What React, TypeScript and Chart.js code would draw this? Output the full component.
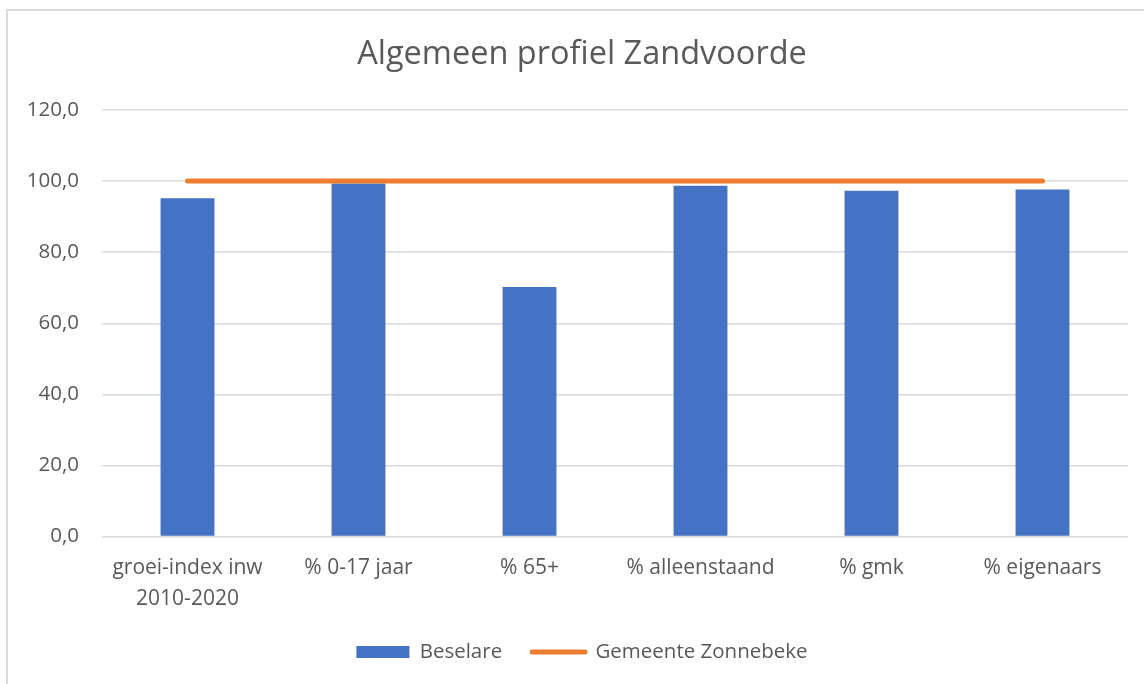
import React, { useEffect, useRef } from "react";
import { Chart, registerables } from "chart.js";

Chart.register(...registerables);

const categories: (string | string[])[] = [
  ["groei-index inw", "2010-2020"],
  "% 0-17 jaar",
  "% 65+",
  "% alleenstaand",
  "% gmk",
  "% eigenaars",
];
const beselare = [95.2, 99.3, 70.2, 98.7, 97.3, 97.6];
const gemeente = [100, 100, 100, 100, 100, 100];
const yTicks = [0, 20, 40, 60, 80, 100, 120];

const FONT = "'Open Sans', 'Noto Sans', sans-serif";
const TEXT = "#595959";

const borderPlugin = {
  id: "outerBorder",
  beforeDraw(chart: any) {
    const ctx = chart.ctx;
    ctx.save();
    ctx.fillStyle = "#ffffff";
    ctx.fillRect(0, 0, chart.width, chart.height);
    ctx.strokeStyle = "#d9d9d9";
    ctx.lineWidth = 2;
    ctx.strokeRect(7, 10, chart.width + 20, chart.height + 20);
    ctx.restore();
  },
};

export default function App() {
  const ref = useRef<HTMLCanvasElement>(null);
  useEffect(() => {
    if (!ref.current) return;
    const chart = new Chart(ref.current, {
      type: "bar",
      data: {
        labels: categories,
        datasets: [
          {
            type: "bar",
            label: "Beselare",
            data: beselare,
            backgroundColor: "#4472C4",
            borderWidth: 0,
            barPercentage: 0.315,
            categoryPercentage: 1,
            order: 1,
          },
          {
            type: "line",
            label: "Gemeente Zonnebeke",
            data: gemeente,
            borderColor: "#ED7D31",
            backgroundColor: "#ED7D31",
            borderWidth: 5,
            borderCapStyle: "round",
            pointRadius: 0,
            pointHoverRadius: 0,
            order: 0,
          } as any,
        ],
      },
      plugins: [borderPlugin],
      options: {
        animation: false,
        responsive: false,
        devicePixelRatio: 1,
        layout: { padding: { top: 0, left: 20, right: 0, bottom: 11.75 } },
        plugins: {
          tooltip: { enabled: false },
          title: {
            display: true,
            text: "Algemeen profiel Zandvoorde",
            color: TEXT,
            font: { family: FONT, size: 32.5, weight: "normal" },
            padding: { top: 35.5, bottom: 35.5 },
          },
          legend: {
            position: "bottom",
            labels: {
              color: TEXT,
              font: { family: FONT, size: 20.5 },
              usePointStyle: true,
              pointStyleWidth: 53,
              boxHeight: 12,
              padding: 30,
              generateLabels(c: any) {
                return c.data.datasets.map((ds: any, i: number) => ({
                  text: ds.label,
                  fillStyle: ds.type === "line" ? ds.borderColor : ds.backgroundColor,
                  strokeStyle: ds.type === "line" ? ds.borderColor : ds.backgroundColor,
                  lineWidth: ds.type === "line" ? 5 : 0,
                  lineCap: "round",
                  pointStyle: ds.type === "line" ? "line" : "rect",
                  fontColor: TEXT,
                  hidden: false,
                  datasetIndex: i,
                }));
              },
            },
          },
        },
        scales: {
          x: {
            grid: { display: false, drawTicks: false },
            border: { display: false },
            ticks: {
              color: TEXT,
              font: { family: FONT, size: 21, lineHeight: 1.43 },
              padding: 17,
              maxRotation: 0,
              autoSkip: false,
            },
            afterFit(scale: any) {
              scale.height = 75.25;
            },
          },
          y: {
            min: 0,
            max: 120,
            afterBuildTicks(scale: any) {
              scale.ticks = yTicks.map((v) => ({ value: v }));
            },
            grid: { color: "#d9d9d9", lineWidth: 1.5, drawTicks: false },
            border: { display: false },
            ticks: {
              color: TEXT,
              font: { family: FONT, size: 20.5 },
              padding: 23,
              callback: (v: any) => Number(v).toFixed(1).replace(".", ","),
            },
            afterFit(scale: any) {
              scale.width = 82;
            },
          },
          yRight: {
            position: "right",
            min: 0,
            max: 1,
            grid: { display: false, drawTicks: false },
            border: { display: false },
            ticks: { display: false },
            afterFit(scale: any) {
              scale.width = 16;
            },
          },
        },
      },
    });
    return () => chart.destroy();
  }, []);
  return (
    <div style={{ position: "absolute", left: 0, top: 0, width: 1144, height: 684 }}>
      <canvas ref={ref} width={1144} height={684} style={{ display: "block" }} />
    </div>
  );
}
